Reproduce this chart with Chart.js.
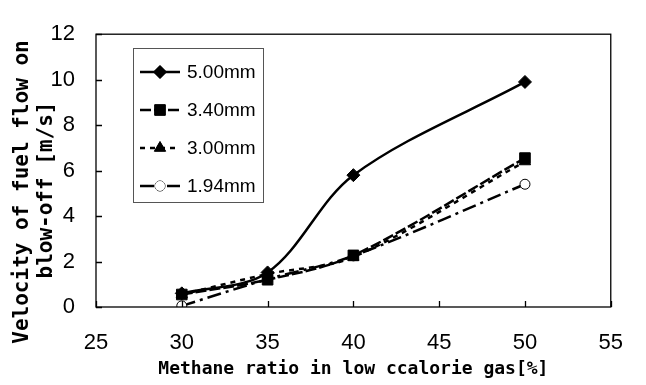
<!DOCTYPE html>
<html>
<head>
<meta charset="utf-8">
<script src="https://cdn.jsdelivr.net/npm/chart.js@4"></script>
<style>
  html, body { margin: 0; padding: 0; background: #fff; }
  #wrap { width: 646px; height: 385px; }
</style>
</head>
<body>
<div id="wrap"><canvas id="blowChart" width="646" height="385"></canvas></div>
<script>
// methane ratio [%]
const metano = [30, 35, 40, 50];
// blow-off velocity [m/s] per nozzle
const v500 = [0.6, 1.52, 5.8, 9.9];
const v340 = [0.55, 1.2, 2.27, 6.55];
const v300 = [0.55, 1.45, 2.2, 6.4];
const v194 = [0.05, 1.22, 2.25, 5.4];
const etiquetas = ["5.00mm", "3.40mm", "3.00mm", "1.94mm"];
const xTicks = [25, 30, 35, 40, 45, 50, 55];
const yTicks = [0, 2, 4, 6, 8, 10, 12];
const tituloY = ["Velocity of fuel flow on", "blow-off [m/s]"];

function puntos(ys) {
    return metano.map((x, i) => ({ x: x, y: ys[i] }));
}

const estilos = [
    { dash: [], punto: "rectRot", radio: 6.5, relleno: "#000" },
    { dash: [11, 3], punto: "rect", radio: 7.5, relleno: "#000" },
    { dash: [5, 5], punto: "triangle", radio: 6.5, relleno: "#000" },
    { dash: [14, 5, 3, 5], punto: "circle", radio: 5, relleno: "#fff" }
];

const series = [v500, v340, v300, v194];
const fuenteTick = "'Liberation Sans Narrow', 'Liberation Sans', sans-serif";

// box + inward ticks + legend inside plot + y title
const marco = {
    id: "marco",
    afterDraw(chart) {
        const ctx = chart.ctx;
        const a = chart.chartArea;
        const xs = chart.scales.x, ys = chart.scales.y;
        ctx.save();
        ctx.strokeStyle = "#000";
        ctx.lineWidth = 1.3;
        ctx.setLineDash([]);
        ctx.strokeRect(a.left, a.top, a.right - a.left, a.bottom - a.top);
        ctx.beginPath();
        xTicks.forEach(v => {
            const px = Math.round(xs.getPixelForValue(v)) + 0.5;
            ctx.moveTo(px, a.bottom);
            ctx.lineTo(px, a.bottom - 6);
        });
        yTicks.forEach(v => {
            const py = Math.round(ys.getPixelForValue(v)) + 0.5;
            ctx.moveTo(a.left, py);
            ctx.lineTo(a.left + 6, py);
        });
        ctx.stroke();

        // y axis title, two lines
        ctx.fillStyle = "#000";
        ctx.font = "bold 21px 'DejaVu Sans Mono', monospace";
        ctx.textAlign = "center";
        ctx.textBaseline = "middle";
        [[22, 192], [46, 190]].forEach((p, i) => {
            ctx.save();
            ctx.translate(p[0], p[1]);
            ctx.rotate(-Math.PI / 2);
            ctx.fillText(tituloY[i], 0, 1);
            ctx.restore();
        });

        // legend
        const bx = 133, by = 48, bw = 130, bh = 154;
        ctx.fillStyle = "#fff";
        ctx.fillRect(bx, by, bw, bh);
        ctx.strokeStyle = "#555";
        ctx.lineWidth = 1;
        ctx.strokeRect(bx + 0.5, by + 0.5, bw, bh);
        ctx.font = "19px " + fuenteTick;
        ctx.textBaseline = "middle";
        ctx.textAlign = "left";
        estilos.forEach((e, i) => {
            const yy = 72 + i * 38;
            ctx.strokeStyle = "#000";
            ctx.lineWidth = 2.5;
            ctx.setLineDash(e.dash);
            ctx.beginPath();
            ctx.moveTo(140, yy);
            ctx.lineTo(180, yy);
            ctx.stroke();
            ctx.setLineDash([]);
            ctx.fillStyle = e.relleno;
            ctx.lineWidth = 1;
            Chart.helpers.drawPoint(ctx, { pointStyle: e.punto, radius: e.radio, rotation: 0, borderWidth: 1 }, 160, yy);
            ctx.fill();
            ctx.fillStyle = "#000";
            ctx.fillText(etiquetas[i], 187, yy + 1);
        });
        ctx.restore();
    }
};

new Chart(document.getElementById("blowChart"), {
    type: "line",
    data: {
        datasets: series.map((s, i) => ({
            label: etiquetas[i],
            data: puntos(s),
            borderColor: "#000",
            backgroundColor: estilos[i].relleno,
            borderWidth: 2.5,
            borderDash: estilos[i].dash,
            pointStyle: estilos[i].punto,
            pointRadius: estilos[i].radio,
            pointBorderColor: "#000",
            pointBorderWidth: 1,
            pointBackgroundColor: estilos[i].relleno,
            tension: 0.33,
            fill: false
        }))
    },
    options: {
        responsive: false,
        animation: false,
        layout: { padding: { left: 0, right: 14, top: 17, bottom: 0 } },
        plugins: { legend: { display: false }, tooltip: { enabled: false } },
        scales: {
            x: {
                type: "linear",
                min: 25, max: 55,
                afterBuildTicks: s => { s.ticks = xTicks.map(v => ({ value: v })); },
                afterFit: s => { s.height = 78; },
                grid: { display: false, drawTicks: false },
                border: { display: false },
                ticks: { color: "#000", padding: 23, font: { family: fuenteTick, size: 22 } },
                title: {
                    display: true,
                    text: "Methane ratio in low ccalorie gas[%]",
                    color: "#000",
                    padding: { top: 0, bottom: 5 },
                    font: { family: "'DejaVu Sans Mono', monospace", size: 18, weight: "bold" }
                }
            },
            y: {
                min: 0, max: 12,
                afterBuildTicks: s => { s.ticks = yTicks.map(v => ({ value: v })); },
                afterFit: s => { s.width = 96; },
                grid: { display: false, drawTicks: false },
                border: { display: false },
                ticks: { color: "#000", padding: 21, font: { family: fuenteTick, size: 22 } },
                title: { display: false }
            }
        }
    },
    plugins: [marco]
});
</script>
</body>
</html>
